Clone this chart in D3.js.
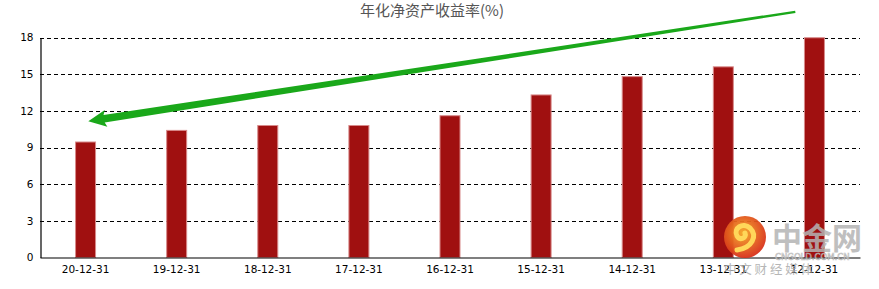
<!DOCTYPE html>
<html lang="zh">
<head>
<meta charset="UTF-8">
<title>年化净资产收益率</title>
<script src="https://d3js.org/d3.v7.min.js"></script>
<style>
  body { margin: 0; background: #fff; }
  svg text { font-family: "DejaVu Sans", sans-serif; }
</style>
</head>
<body>
<svg id="chart" width="879" height="289"></svg>
<script>
// chart data
const categories = ["20-12-31", "19-12-31", "18-12-31", "17-12-31", "16-12-31",
                    "15-12-31", "14-12-31", "13-12-31", "12-12-31"];
const roeValues = [9.45, 10.4, 10.8, 10.8, 11.6, 13.3, 14.8, 15.6, 17.98];
const yTicks = [0, 3, 6, 9, 12, 15, 18];
// trend arrow: from [category position, value] tail to head
const arrowTail = [8.29, 20.1];
const arrowHead = [0.53, 11.15];

const svg = d3.select("#chart");
const plotL = 40, plotR = 860, plotT = 37.5, plotB = 257.5;

const x = d3.scaleBand().domain(categories).range([plotL, plotR]);
const xi = d3.scaleLinear().domain([0, categories.length]).range([plotL, plotR]);
const y = d3.scaleLinear().domain([0, 18]).range([plotB, plotT]);

// title
svg.append("text")
  .attr("x", 432).attr("y", 16)
  .attr("text-anchor", "middle")
  .style("font-family", "'Noto Sans CJK SC', sans-serif")
  .style("font-size", "15px")
  .style("fill", "#555")
  .text("年化净资产收益率(%)");

// dashed grid
svg.append("g").selectAll("line")
  .data(yTicks.filter(d => d > 0))
  .enter().append("line")
  .attr("x1", plotL).attr("x2", plotR)
  .attr("y1", d => Math.round(y(d)) + 0.5).attr("y2", d => Math.round(y(d)) + 0.5)
  .attr("stroke", "#000").attr("stroke-dasharray", "4,3");

// bars
const bw = 20;
svg.append("g").selectAll("rect")
  .data(roeValues)
  .enter().append("rect")
  .attr("x", (d, i) => x(categories[i]) + x.bandwidth() / 2 - bw / 2)
  .attr("y", d => y(d))
  .attr("width", bw)
  .attr("height", d => plotB - y(d))
  .attr("fill", "#a01010")
  .attr("stroke", "#d88a8a")
  .attr("stroke-width", 1);

// axes
const yAxis = svg.append("g").attr("transform", `translate(${plotL + 0.5},0)`)
  .call(d3.axisLeft(y).tickValues(yTicks).tickSize(0).tickPadding(7));
const xAxis = svg.append("g").attr("transform", `translate(0,${plotB})`)
  .call(d3.axisBottom(x).tickSize(0).tickPadding(8));
[yAxis, xAxis].forEach(a => {
  a.select(".domain").attr("stroke", "#000").attr("stroke-width", 1.2);
  a.selectAll("text").style("font-size", "10.5px").style("fill", "#000");
});

// green trend arrow (tapered)
const tx = xi(arrowTail[0]), ty = y(arrowTail[1]);
const hx = xi(arrowHead[0]), hy = y(arrowHead[1]);
const dx = hx - tx, dy = hy - ty, len = Math.hypot(dx, dy);
const ux = dx / len, uy = dy / len, nx = -uy, ny = ux;
const headLen = 16, headW = 8.5, tailW = 1.2, neckW = 3.8;
const bx = hx - ux * headLen, by = hy - uy * headLen;
const pts = [
  [tx + nx * tailW, ty + ny * tailW],
  [bx + nx * neckW, by + ny * neckW],
  [bx + nx * headW - ux * 2, by + ny * headW - uy * 2],
  [hx, hy],
  [bx - nx * headW - ux * 2, by - ny * headW - uy * 2],
  [bx - nx * neckW, by - ny * neckW],
  [tx - nx * tailW, ty - ny * tailW]
];
svg.append("polygon")
  .attr("points", pts.map(p => p.join(",")).join(" "))
  .attr("fill", "#1aa81a");

// watermark
const wm = svg.append("g");
const grad = svg.append("defs").append("radialGradient").attr("id", "lg")
  .attr("cx", "45%").attr("cy", "40%").attr("r", "60%");
grad.append("stop").attr("offset", "0%").attr("stop-color", "#f5a623");
grad.append("stop").attr("offset", "100%").attr("stop-color", "#d8301a");
wm.append("circle").attr("cx", 745).attr("cy", 237).attr("r", 21)
  .attr("fill", "url(#lg)").attr("opacity", 0.95);
wm.append("path")
  .attr("d", "M737,250 C752,248 758,236 750,228 C743,222 733,228 737,236 C740,241 747,238 745,233")
  .attr("fill", "none").attr("stroke", "#ffd75a").attr("stroke-width", 5).attr("stroke-linecap", "round");
wm.append("text").attr("x", 772).attr("y", 249)
  .style("font-family", "'Noto Sans CJK SC', sans-serif").style("font-weight", "bold")
  .style("font-size", "30px").style("fill", "#b4b4b4").attr("opacity", 0.85)
  .text("中金网");
wm.append("text").attr("x", 775).attr("y", 260)
  .style("font-size", "8.5px").style("fill", "none").style("stroke", "#bbb").style("stroke-width", 0.6)
  .text("CNGOLD.COM.CN");
wm.append("text").attr("x", 724).attr("y", 274)
  .style("font-family", "'Noto Sans CJK SC', sans-serif")
  .style("font-size", "12.5px").style("fill", "#aaa").attr("opacity", 0.85)
  .text("中 文 财 经 媒 体");
</script>
</body>
</html>
